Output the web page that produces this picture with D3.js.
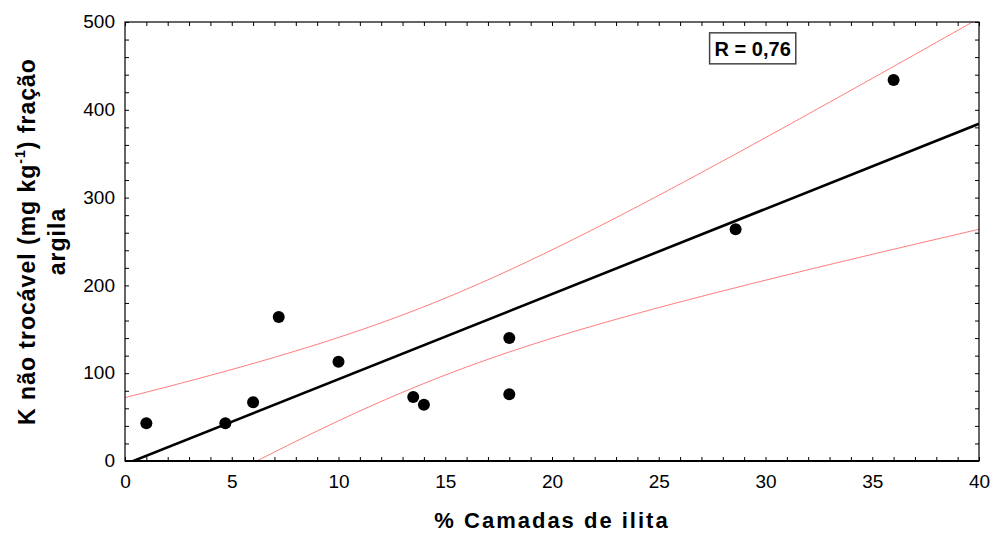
<!DOCTYPE html>
<html>
<head>
<meta charset="utf-8">
<script src="https://cdn.jsdelivr.net/npm/d3@7"></script>
<style>
  body { margin: 0; background: #fff; }
  svg { display: block; font-family: "Liberation Sans", Arial, sans-serif; }
  .tick line { stroke: #000; }
</style>
</head>
<body>
<div id="chart"></div>
<script>
// Scatter: % camadas de ilita vs K não trocável (fração argila)
const pctIlita = [1, 4.7, 6, 7.2, 10, 13.5, 14, 18, 18, 28.6, 36];
const kNaoTrocavel = [43, 43, 67, 164, 113, 73, 64, 140, 76, 264, 434];
const xMajorTicks = [0, 5, 10, 15, 20, 25, 30, 35, 40];
const yMajorTicks = [0, 100, 200, 300, 400, 500];
const rLabel = "R = 0,76";
const rLabelAt = [29.4, 470]; // data units (x, y)

const width = 992, height = 534;
const margin = { top: 22, right: 13, bottom: 73, left: 125 };

const svg = d3.select("#chart").append("svg")
    .attr("width", width)
    .attr("height", height);

const x = d3.scaleLinear().domain([0, 40]).range([margin.left, width - margin.right]);
const y = d3.scaleLinear().domain([0, 500]).range([height - margin.bottom, margin.top]);

// clip for fitted lines
svg.append("defs").append("clipPath").attr("id", "plot-clip")
    .append("rect")
    .attr("x", x(0)).attr("y", y(500))
    .attr("width", x(40) - x(0)).attr("height", y(0) - y(500));

// linear fit + 95% confidence band of the mean, from the points
const n = pctIlita.length;
const mx = d3.mean(pctIlita), my = d3.mean(kNaoTrocavel);
const sxx = d3.sum(pctIlita, v => (v - mx) ** 2);
const sxy = d3.sum(pctIlita, (v, i) => (v - mx) * (kNaoTrocavel[i] - my));
const slope = sxy / sxx;
const intercept = my - slope * mx;
const sse = d3.sum(pctIlita, (v, i) => (kNaoTrocavel[i] - (intercept + slope * v)) ** 2);
const s = Math.sqrt(sse / (n - 2));
const tCrit = 2.262; // t(0.975, 9)

const xs = d3.range(0, 40.001, 0.2);
const fit = v => intercept + slope * v;
const half = v => tCrit * s * Math.sqrt(1 / n + (v - mx) ** 2 / sxx);

const line = d3.line().x(d => x(d[0])).y(d => y(d[1]));
const fitG = svg.append("g").attr("clip-path", "url(#plot-clip)");

fitG.append("path")
    .attr("d", line(xs.map(v => [v, fit(v) + half(v)])))
    .attr("fill", "none").attr("stroke", "#ff7b7b").attr("stroke-width", 1);
fitG.append("path")
    .attr("d", line(xs.map(v => [v, fit(v) - half(v)])))
    .attr("fill", "none").attr("stroke", "#ff7b7b").attr("stroke-width", 1);
fitG.append("path")
    .attr("d", line([0, 40].map(v => [v, fit(v)])))
    .attr("fill", "none").attr("stroke", "#000").attr("stroke-width", 2.6);

// points
svg.append("g").selectAll("circle")
    .data(pctIlita)
    .enter()
    .append("circle")
    .attr("cx", d => x(d))
    .attr("cy", (d, i) => y(kNaoTrocavel[i]))
    .attr("r", 6)
    .attr("fill", "#000");

// axes (inward ticks on all four sides)
const fmtX = d => xMajorTicks.includes(d) ? d : "";
const fmtY = d => yMajorTicks.includes(d) ? d : "";

const gx = svg.append("g")
    .attr("transform", `translate(0,${y(0)})`)
    .call(d3.axisBottom(x).tickValues(d3.range(0, 41, 1)).tickSize(-4).tickSizeOuter(0).tickPadding(14).tickFormat(fmtX));
const gy = svg.append("g")
    .attr("transform", `translate(${x(0)},0)`)
    .call(d3.axisLeft(y).tickValues(d3.range(0, 501, 20)).tickSize(-4).tickSizeOuter(0).tickPadding(10).tickFormat(fmtY));
svg.append("g")
    .attr("transform", `translate(0,${y(500)})`)
    .call(d3.axisTop(x).tickValues(d3.range(0, 41, 1)).tickSize(-4).tickSizeOuter(0).tickFormat(""));
svg.append("g")
    .attr("transform", `translate(${x(40)},0)`)
    .call(d3.axisRight(y).tickValues(d3.range(0, 501, 20)).tickSize(-4).tickSizeOuter(0).tickFormat(""));

svg.selectAll(".domain").remove();
svg.selectAll(".tick text")
    .attr("font-family", "'Liberation Sans', Arial, sans-serif")
    .attr("font-size", 19)
    .attr("fill", "#000");
gy.selectAll(".tick text").attr("dy", "0.3em");

// frame
svg.append("rect")
    .attr("x", x(0)).attr("y", y(500))
    .attr("width", x(40) - x(0)).attr("height", y(0) - y(500))
    .attr("fill", "none").attr("stroke", "#000").attr("stroke-width", 1.2);
svg.append("line")
    .attr("x1", x(0)).attr("x2", x(40))
    .attr("y1", y(0)).attr("y2", y(0))
    .attr("stroke", "#000").attr("stroke-width", 1.8);

// R annotation
const annot = svg.append("g").attr("class", "r-annot");
const rBox = annot.append("rect");
const rText = annot.append("text")
    .attr("x", x(rLabelAt[0]))
    .attr("y", y(rLabelAt[1]))
    .attr("dy", "0.36em")
    .attr("text-anchor", "middle")
    .attr("font-size", 20)
    .attr("font-weight", "bold")
    .text(rLabel);
const bb = rText.node().getBBox();
rBox.attr("x", bb.x - 5).attr("y", y(rLabelAt[1]) - 15.5)
    .attr("width", bb.width + 10).attr("height", 31)
    .attr("fill", "#fff").attr("stroke", "#444").attr("stroke-width", 1.5);

// axis titles
svg.append("text")
    .attr("x", (x(0) + x(40)) / 2)
    .attr("y", 528)
    .attr("text-anchor", "middle")
    .attr("font-size", 22)
    .attr("font-weight", "bold")
    .attr("letter-spacing", 2)
    .text("% Camadas de ilita");

const yTitle = svg.append("text")
    .attr("transform", `translate(35,${(y(0) + y(500)) / 2}) rotate(-90)`)
    .attr("text-anchor", "middle")
    .attr("font-size", 23)
    .attr("font-weight", "bold")
    .attr("letter-spacing", 1);
yTitle.append("tspan").text("K não trocável (mg kg");
yTitle.append("tspan").attr("font-size", 14).attr("dy", -10).text("-1");
yTitle.append("tspan").attr("dy", 10).text(") fração");

svg.append("text")
    .attr("transform", `translate(65,${(y(0) + y(500)) / 2}) rotate(-90)`)
    .attr("text-anchor", "middle")
    .attr("font-size", 23)
    .attr("font-weight", "bold")
    .attr("letter-spacing", 1)
    .text("argila");
</script>
</body>
</html>
